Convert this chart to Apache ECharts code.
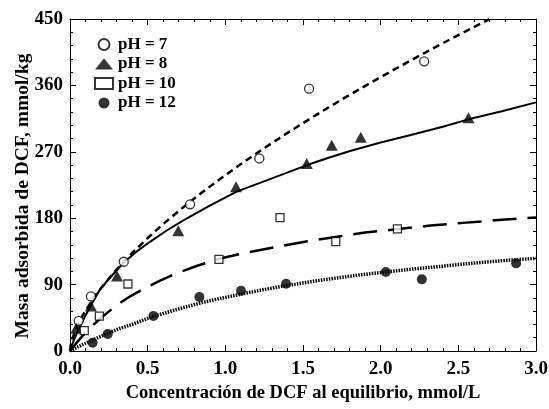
<!DOCTYPE html>
<html><head><meta charset="utf-8">
<script src="https://cdn.jsdelivr.net/npm/echarts@6/dist/echarts.min.js"></script>
<style>html,body{margin:0;padding:0;background:#fff}#c{width:549px;height:409px}</style>
</head><body><div id="c"></div>
<script>
// Measured points
const ph7Pts = [[0.056,40.7],[0.135,74],[0.346,121],[0.773,198.8],[1.219,261],[1.539,355.5],[2.28,392.6]];
const ph8Pts = [[0.04,31],[0.135,61],[0.303,101.6],[0.697,163],[1.069,222.7],[1.524,254],[1.685,279],[1.872,289.6],[2.565,316]];
const ph10Pts = [[0.092,27.5],[0.189,47.4],[0.373,90.8],[0.959,124.3],[1.352,180.7],[1.711,148.2],[2.108,165.4]];
const ph12Pts = [[0.146,11.3],[0.243,23],[0.537,47.4],[0.833,73.2],[1.101,81.7],[1.391,91.2],[2.033,107],[2.265,97.1],[2.872,118.8]];
// Fitted curves
const ph7Curve = [[0,0],[0.005,8.3],[0.01,12.6],[0.025,22.6],[0.05,35.2],[0.075,45.7],[0.1,54.7],[0.15,70.8],[0.2,85.3],[0.3,110.5],[0.4,132.8],[0.5,153.1],[0.6,172],[0.7,189.8],[0.8,206.7],[0.9,222.8],[1.0,238.4],[1.125,257],[1.25,274.9],[1.375,292.2],[1.5,308.9],[1.625,325.1],[1.75,340.9],[1.875,356.2],[2.0,371.2],[2.125,385.9],[2.25,400.3],[2.375,414.4],[2.5,428.2],[2.6,439],[2.7,449.7]];
const ph8Curve = [[0,0],[0.01,6.5],[0.02,12],[0.035,19.5],[0.05,27],[0.075,38],[0.1,48],[0.135,62],[0.189,82],[0.26,100],[0.346,120],[0.43,135],[0.515,148],[0.62,163],[0.73,177],[0.9,197],[1.073,216],[1.3,234],[1.513,251],[1.65,261],[1.803,271],[2.0,282.5],[2.2,293],[2.4,304],[2.565,314],[2.78,325],[3.0,337]];
const ph10Curve = [[0,0],[0.02,5.5],[0.05,13],[0.1,25],[0.15,35.5],[0.2,45],[0.3,62],[0.39,74.5],[0.48,85],[0.58,95.5],[0.68,105],[0.82,115.5],[0.96,125],[1.14,133.5],[1.33,141],[1.52,148.5],[1.72,155],[1.9,160.5],[2.1,165],[2.32,170],[2.55,174],[2.78,177.8],[3.0,181]];
const ph12Curve = [[0,0],[0.05,5.5],[0.1,10.5],[0.146,15],[0.243,24],[0.32,30.5],[0.4,36],[0.47,41.8],[0.537,47],[0.62,52],[0.7,57],[0.79,62.3],[0.876,67],[0.99,72.2],[1.1,77],[1.24,83],[1.39,88.5],[1.55,94],[1.7,98.5],[1.86,103],[2.03,107],[2.2,111],[2.4,115],[2.55,118.2],[2.7,121],[2.85,123.5],[3.0,125.6]];
const legendNames = ['pH = 7','pH = 8','pH = 10','pH = 12'];
const xTicks = {min:0,max:3,interval:0.5};
const yTicks = {min:0,max:450,interval:90};

const FONT = '"Liberation Serif","Times New Roman",serif';
const chart = echarts.init(document.getElementById('c'));
const axisCommon = {
  axisLine:{show:true,onZero:false,lineStyle:{color:'#000',width:1}},
  axisTick:{show:true,inside:true,length:6,lineStyle:{color:'#000',width:1}},
  minorTick:{show:true,splitNumber:5,length:3,lineStyle:{color:'#000',width:1}},
  splitLine:{show:false}
};
function lineSeries(data, type, width){
  return {type:'line',data:data,smooth:false,symbol:'none',silent:true,z:2,clip:true,
    lineStyle:{color:'#000',width:width,type:type,cap:'butt',join:'round'}};
}
chart.setOption({
  animation:false,
  grid:{left:70,right:13,top:19,bottom:58,containLabel:false,outerBoundsMode:'none'},
  legend:{
    data:legendNames.map(n=>({name:n})),
    orient:'vertical',left:89,top:31,itemGap:2.5,itemWidth:18,itemHeight:11,symbolKeepAspect:true,
    textStyle:{fontFamily:FONT,fontWeight:'bold',fontSize:17,lineHeight:17,color:'#000'}
  },
  xAxis:[
    Object.assign({type:'value',min:xTicks.min,max:xTicks.max,interval:xTicks.interval,position:'bottom',
      name:'Concentración de DCF al equilibrio, mmol/L',nameLocation:'middle',nameGap:32,
      nameTextStyle:{fontFamily:FONT,fontWeight:'bold',fontSize:18.5,color:'#000'},
      axisLabel:{fontFamily:FONT,fontWeight:'bold',fontSize:19,color:'#000',margin:9,formatter:v=>v.toFixed(1)}},axisCommon),
    Object.assign({type:'value',min:xTicks.min,max:xTicks.max,interval:xTicks.interval,position:'top',axisLabel:{show:false}},axisCommon)
  ],
  yAxis:[
    Object.assign({type:'value',min:yTicks.min,max:yTicks.max,interval:yTicks.interval,position:'left',
      name:'Masa adsorbida de DCF, mmol/kg',nameLocation:'middle',nameGap:37,nameMoveOverlap:false,
      nameTextStyle:{fontFamily:FONT,fontWeight:'bold',fontSize:19.5,color:'#000',padding:[0,22,0,0]},
      axisLabel:{fontFamily:FONT,fontWeight:'bold',fontSize:19,color:'#000',margin:7}},axisCommon),
    Object.assign({type:'value',min:yTicks.min,max:yTicks.max,interval:yTicks.interval,position:'right',axisLabel:{show:false}},axisCommon)
  ],
  series:[
    lineSeries(ph7Curve,[7,4.5],2.5),
    lineSeries(ph8Curve,'solid',2),
    lineSeries(ph10Curve,[24,11],2.5),
    lineSeries(ph12Curve,[1.5,1.2],3.5),
    {name:legendNames[0],type:'scatter',data:ph7Pts,symbol:'circle',symbolSize:9,z:3,
      itemStyle:{color:'#fff',borderColor:'#000',borderWidth:1.3}},
    {name:legendNames[1],type:'scatter',data:ph8Pts,symbol:'triangle',symbolSize:[12,11],z:3,
      itemStyle:{color:'#000'}},
    {name:legendNames[2],type:'scatter',data:ph10Pts,symbol:'rect',symbolSize:8,z:3,
      itemStyle:{color:'#fff',borderColor:'#000',borderWidth:1.3}},
    {name:legendNames[3],type:'scatter',data:ph12Pts,symbol:'circle',symbolSize:10,z:3,
      itemStyle:{color:'#000'}}
  ]
});
</script></body></html>
